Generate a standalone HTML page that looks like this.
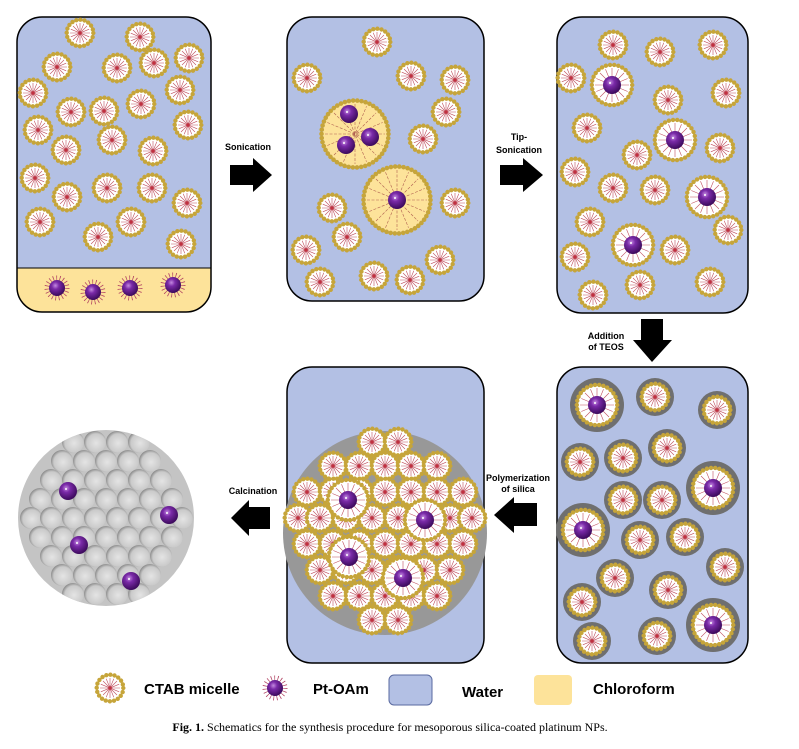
<!DOCTYPE html>
<html><head><meta charset="utf-8"><style>
body{margin:0;background:#fff;width:799px;height:749px;overflow:hidden}
svg{display:block}
.l{font-family:"Liberation Sans",sans-serif;font-weight:bold;font-size:9px;fill:#000;text-anchor:middle}
.g{font-family:"Liberation Sans",sans-serif;font-weight:bold;font-size:15px;fill:#000}
</style></head><body>
<svg width="799" height="749" viewBox="0 0 799 749" xmlns="http://www.w3.org/2000/svg">
<defs>
<radialGradient id="pg" cx="40%" cy="35%" r="65%"><stop offset="0" stop-color="#c48ae0"/><stop offset=".35" stop-color="#7a2aa8"/><stop offset="1" stop-color="#3c0a5c"/></radialGradient>
<radialGradient id="sg" cx="55%" cy="55%" r="60%"><stop offset="0" stop-color="#e4e4e4"/><stop offset=".7" stop-color="#cacaca"/><stop offset="1" stop-color="#7a7a7a"/></radialGradient>
<g id="m"><circle r="12.5" fill="#fff"/><path d="M-10 0H10M0-10V10M-7-7L7 7M-7 7L7-7M-9.2-3.8L9.2 3.8M-9.2 3.8L9.2-3.8M-3.8-9.2L3.8 9.2M-3.8 9.2L3.8-9.2" stroke="#c0505f" stroke-width=".6"/><circle r="1.6" fill="#c03040"/><circle r="13.3" fill="none" stroke="#c6a53a" stroke-width="4.4" stroke-dasharray="0 4.18" stroke-linecap="round"/></g>
<g id="p"><circle r="9" fill="url(#pg)"/><circle cx="-2" cy="-2" r="1" fill="#fff"/></g>
<g id="po"><circle r="10" fill="none" stroke="#b04060" stroke-width="5" stroke-dasharray="0.7 2.6"/><circle r="8" fill="url(#pg)"/></g>
<g id="mb"><circle r="19" fill="#fff"/><path d="M-17 0H17M0-17V17M-12-12L12 12M-12 12L12-12M-15.7-6.5L15.7 6.5M-15.7 6.5L15.7-6.5M-6.5-15.7L6.5 15.7M-6.5 15.7L6.5-15.7" stroke="#c0505f" stroke-width=".6"/><circle r="20.2" fill="none" stroke="#c6a53a" stroke-width="4.4" stroke-dasharray="0 4.23" stroke-linecap="round"/><use href="#p"/></g>
<g id="my"><circle r="32" fill="#fde39a"/><path d="M-30 0H30M0-30V30M-21-21L21 21M-21 21L21-21M-27.7-11.5L27.7 11.5M-27.7 11.5L27.7-11.5M-11.5-27.7L11.5 27.7M-11.5 27.7L11.5-27.7" stroke="#b06050" stroke-width=".6" stroke-dasharray="3 1.5"/><circle r="33.5" fill="none" stroke="#c6a53a" stroke-width="4.6" stroke-dasharray="0 4.21" stroke-linecap="round"/></g>
<g id="h"><circle r="19" fill="#6f6f6f"/><use href="#m"/></g>
<g id="hb"><circle r="27" fill="#6f6f6f"/><use href="#mb"/></g>
<g id="s"><circle r="11" fill="url(#sg)"/></g>
<clipPath id="c1"><rect x="17" y="17" width="194" height="295" rx="25"/></clipPath>
<clipPath id="c2"><circle cx="106" cy="518" r="88"/></clipPath>
</defs>

<g clip-path="url(#c1)"><rect x="17" y="17" width="194" height="295" fill="#b3c0e4"/><rect x="17" y="268" width="194" height="44" fill="#fde39a"/><line x1="17" y1="268" x2="211" y2="268" stroke="#000" stroke-width="1"/></g>
<rect x="17" y="17" width="194" height="295" rx="25" fill="none" stroke="#000" stroke-width="1.5"/>
<use href="#m" x="80" y="33"/><use href="#m" x="140" y="37"/><use href="#m" x="57" y="67"/><use href="#m" x="117" y="68"/><use href="#m" x="154" y="63"/><use href="#m" x="189" y="58"/><use href="#m" x="33" y="93"/><use href="#m" x="71" y="112"/><use href="#m" x="104" y="111"/><use href="#m" x="141" y="104"/><use href="#m" x="180" y="90"/><use href="#m" x="38" y="130"/><use href="#m" x="66" y="150"/><use href="#m" x="112" y="140"/><use href="#m" x="153" y="151"/><use href="#m" x="188" y="125"/><use href="#m" x="107" y="188"/><use href="#m" x="35" y="178"/><use href="#m" x="67" y="197"/><use href="#m" x="152" y="188"/><use href="#m" x="187" y="203"/><use href="#m" x="40" y="222"/><use href="#m" x="98" y="237"/><use href="#m" x="131" y="222"/><use href="#m" x="181" y="244"/>
<use href="#po" x="57" y="288"/><use href="#po" x="93" y="292"/><use href="#po" x="130" y="288"/><use href="#po" x="173" y="285"/>

<text class="l" x="248" y="150">Sonication</text>
<polygon points="230,165 253,165 253,158 272,175 253,192 253,185 230,185" fill="#000"/>

<rect x="287" y="17" width="197" height="284" rx="25" fill="#b3c0e4" stroke="#000" stroke-width="1.5"/>
<use href="#m" x="377" y="42"/><use href="#m" x="307" y="78"/><use href="#m" x="411" y="76"/><use href="#m" x="455" y="80"/><use href="#m" x="446" y="112"/><use href="#m" x="423" y="139"/><use href="#m" x="455" y="203"/><use href="#m" x="332" y="208"/><use href="#m" x="306" y="250"/><use href="#m" x="347" y="237"/><use href="#m" x="374" y="276"/><use href="#m" x="440" y="260"/><use href="#m" x="410" y="280"/><use href="#m" x="320" y="282"/>
<use href="#my" x="355" y="134"/><use href="#p" x="349" y="114"/><use href="#p" x="346" y="145"/><use href="#p" x="370" y="137"/>
<use href="#my" x="397" y="200"/><use href="#p" x="397" y="200"/>

<text class="l" x="519" y="140">Tip-</text><text class="l" x="519" y="153">Sonication</text>
<polygon points="500,165 523,165 523,158 543,175 523,192 523,185 500,185" fill="#000"/>

<rect x="557" y="17" width="191" height="296" rx="25" fill="#b3c0e4" stroke="#000" stroke-width="1.5"/>
<use href="#m" x="613" y="45"/><use href="#m" x="660" y="52"/><use href="#m" x="713" y="45"/><use href="#m" x="571" y="78"/><use href="#m" x="668" y="100"/><use href="#m" x="726" y="93"/><use href="#m" x="587" y="128"/><use href="#m" x="637" y="155"/><use href="#m" x="720" y="148"/><use href="#m" x="575" y="172"/><use href="#m" x="613" y="188"/><use href="#m" x="655" y="190"/><use href="#m" x="590" y="222"/><use href="#m" x="728" y="230"/><use href="#m" x="575" y="257"/><use href="#m" x="675" y="250"/><use href="#m" x="593" y="295"/><use href="#m" x="640" y="285"/><use href="#m" x="710" y="282"/>
<use href="#mb" x="612" y="85"/><use href="#mb" x="675" y="140"/><use href="#mb" x="707" y="197"/><use href="#mb" x="633" y="245"/>

<text class="l" x="606" y="339">Addition</text><text class="l" x="606" y="350">of TEOS</text>
<polygon points="641,319 663,319 663,340 672,340 652,362 633,340 641,340" fill="#000"/>

<rect x="557" y="367" width="191" height="296" rx="25" fill="#b3c0e4" stroke="#000" stroke-width="1.5"/>
<use href="#h" x="655" y="397"/><use href="#h" x="717" y="410"/><use href="#h" x="580" y="462"/><use href="#h" x="623" y="458"/><use href="#h" x="667" y="448"/><use href="#h" x="623" y="500"/><use href="#h" x="662" y="500"/><use href="#h" x="640" y="540"/><use href="#h" x="685" y="537"/><use href="#h" x="725" y="567"/><use href="#h" x="615" y="578"/><use href="#h" x="668" y="590"/><use href="#h" x="582" y="602"/><use href="#h" x="592" y="641"/><use href="#h" x="657" y="636"/>
<use href="#hb" x="597" y="405"/><use href="#hb" x="713" y="488"/><use href="#hb" x="583" y="530"/><use href="#hb" x="713" y="625"/>

<text class="l" x="518" y="481">Polymerization</text><text class="l" x="518" y="492">of silica</text>
<polygon points="537,503 514,503 514,497 494,515 514,533 514,526 537,526" fill="#000"/>

<rect x="287" y="367" width="197" height="296" rx="25" fill="#b3c0e4" stroke="#000" stroke-width="1.5"/>
<circle cx="385" cy="533" r="102" fill="#989898"/>
<use href="#m" x="372" y="442"/><use href="#m" x="398" y="442"/>
<use href="#m" x="333" y="466"/><use href="#m" x="359" y="466"/><use href="#m" x="385" y="466"/><use href="#m" x="411" y="466"/><use href="#m" x="437" y="466"/>
<use href="#m" x="307" y="492"/><use href="#m" x="333" y="492"/><use href="#m" x="359" y="492"/><use href="#m" x="385" y="492"/><use href="#m" x="411" y="492"/><use href="#m" x="437" y="492"/><use href="#m" x="463" y="492"/>
<use href="#m" x="298" y="518"/><use href="#m" x="320" y="518"/><use href="#m" x="346" y="518"/><use href="#m" x="372" y="518"/><use href="#m" x="398" y="518"/><use href="#m" x="424" y="518"/><use href="#m" x="450" y="518"/><use href="#m" x="472" y="518"/>
<use href="#m" x="307" y="544"/><use href="#m" x="333" y="544"/><use href="#m" x="359" y="544"/><use href="#m" x="385" y="544"/><use href="#m" x="411" y="544"/><use href="#m" x="437" y="544"/><use href="#m" x="463" y="544"/>
<use href="#m" x="320" y="570"/><use href="#m" x="346" y="570"/><use href="#m" x="372" y="570"/><use href="#m" x="398" y="570"/><use href="#m" x="424" y="570"/><use href="#m" x="450" y="570"/>
<use href="#m" x="333" y="596"/><use href="#m" x="359" y="596"/><use href="#m" x="385" y="596"/><use href="#m" x="411" y="596"/><use href="#m" x="437" y="596"/>
<use href="#m" x="372" y="620"/><use href="#m" x="398" y="620"/>
<use href="#mb" x="348" y="500"/><use href="#mb" x="425" y="520"/><use href="#mb" x="349" y="557"/><use href="#mb" x="403" y="578"/>

<text class="l" x="253" y="494">Calcination</text>
<polygon points="270,507 249,507 249,500 231,518 249,536 249,529 270,529" fill="#000"/>

<circle cx="106" cy="518" r="88" fill="#c4c4c4"/>
<g clip-path="url(#c2)">
<use href="#s" x="73" y="442"/><use href="#s" x="95" y="442"/><use href="#s" x="117" y="442"/><use href="#s" x="139" y="442"/>
<use href="#s" x="62" y="461"/><use href="#s" x="84" y="461"/><use href="#s" x="106" y="461"/><use href="#s" x="128" y="461"/><use href="#s" x="150" y="461"/>
<use href="#s" x="51" y="480"/><use href="#s" x="73" y="480"/><use href="#s" x="95" y="480"/><use href="#s" x="117" y="480"/><use href="#s" x="139" y="480"/><use href="#s" x="161" y="480"/>
<use href="#s" x="40" y="499"/><use href="#s" x="62" y="499"/><use href="#s" x="84" y="499"/><use href="#s" x="106" y="499"/><use href="#s" x="128" y="499"/><use href="#s" x="150" y="499"/><use href="#s" x="172" y="499"/>
<use href="#s" x="31" y="518"/><use href="#s" x="51" y="518"/><use href="#s" x="73" y="518"/><use href="#s" x="95" y="518"/><use href="#s" x="117" y="518"/><use href="#s" x="139" y="518"/><use href="#s" x="161" y="518"/><use href="#s" x="182" y="518"/>
<use href="#s" x="40" y="537"/><use href="#s" x="62" y="537"/><use href="#s" x="84" y="537"/><use href="#s" x="106" y="537"/><use href="#s" x="128" y="537"/><use href="#s" x="150" y="537"/><use href="#s" x="172" y="537"/>
<use href="#s" x="51" y="556"/><use href="#s" x="73" y="556"/><use href="#s" x="95" y="556"/><use href="#s" x="117" y="556"/><use href="#s" x="139" y="556"/><use href="#s" x="161" y="556"/>
<use href="#s" x="62" y="575"/><use href="#s" x="84" y="575"/><use href="#s" x="106" y="575"/><use href="#s" x="128" y="575"/><use href="#s" x="150" y="575"/>
<use href="#s" x="95" y="594"/><use href="#s" x="117" y="594"/><use href="#s" x="73" y="594"/><use href="#s" x="139" y="594"/>
</g>
<use href="#p" x="68" y="491"/><use href="#p" x="169" y="515"/><use href="#p" x="79" y="545"/><use href="#p" x="131" y="581"/>

<use href="#m" x="110" y="688"/>
<text class="g" x="144" y="694">CTAB micelle</text>
<use href="#po" x="275" y="688"/>
<text class="g" x="313" y="694">Pt-OAm</text>
<rect x="389" y="675" width="43" height="30" rx="5" fill="#b3c0e4" stroke="#5a6aa0" stroke-width="1"/>
<text class="g" x="462" y="697">Water</text>
<rect x="534" y="675" width="38" height="30" rx="4" fill="#fde39a"/>
<text class="g" x="593" y="694">Chloroform</text>
<text x="390" y="731" text-anchor="middle" font-family="Liberation Serif,serif" font-size="12"><tspan font-weight="bold">Fig. 1.</tspan>  Schematics for the synthesis procedure for mesoporous silica-coated platinum NPs.</text>
</svg>
</body></html>
